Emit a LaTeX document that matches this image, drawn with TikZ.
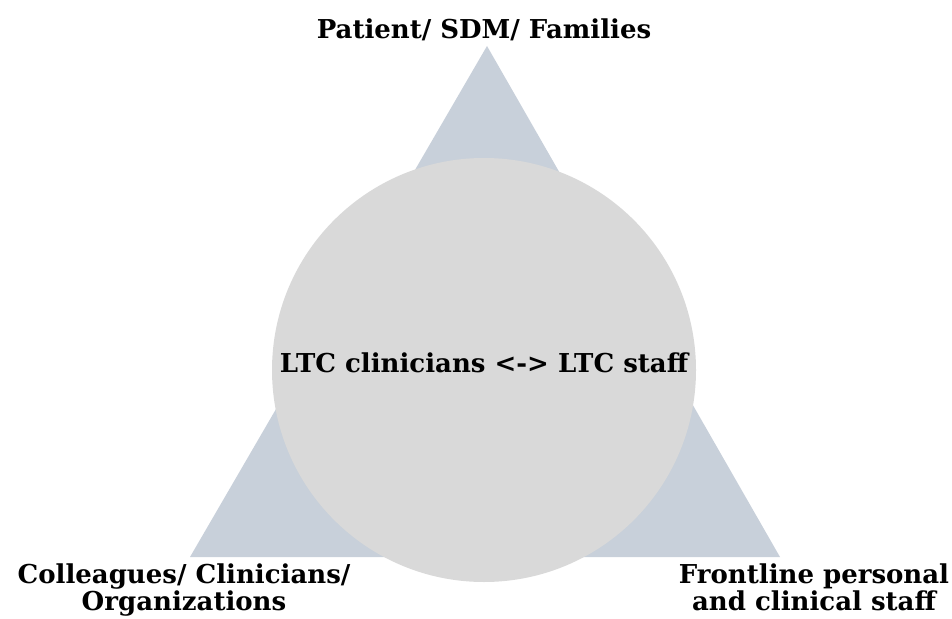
\documentclass[tikz,border=0pt]{standalone}
\usepackage{fontspec}
\setmainfont{DejaVu Serif}
\definecolor{triblue}{HTML}{C8D0DA}
\definecolor{circgray}{HTML}{D9D9D9}
\begin{document}
\begin{tikzpicture}[x=1pt,y=-1pt,
  lbl/.style={font=\fontsize{26}{24}\selectfont\bfseries, align=center, inner sep=0pt, text=black}]
\useasboundingbox (0,0) rectangle (952,618);
\fill[triblue] (487,46) -- (780,557) -- (190,557) -- cycle;
\fill[circgray] (484,370) circle[radius=212];
\node[lbl, anchor=base] (top) at (484,38) {Patient/ SDM/ Families};
\node[lbl, anchor=base] (mid) at (484,372) {LTC clinicians <-> LTC staff};
\node[lbl, anchor=base] (bl) at (184,610) {Colleagues/ Clinicians/\\Organizations};
\node[lbl, anchor=base] (br) at (814,610) {Frontline personal\\and clinical staff};
\end{tikzpicture}
\end{document}
